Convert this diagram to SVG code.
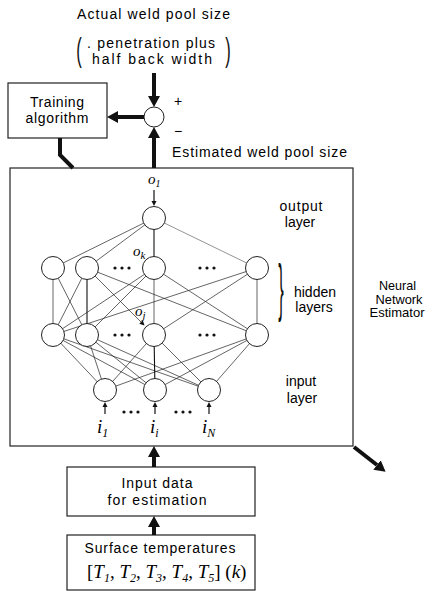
<svg xmlns="http://www.w3.org/2000/svg" width="434" height="591" viewBox="0 0 434 591">
<style>
.lbl{font-family:"Liberation Sans",Arial,sans-serif;font-size:14px;fill:#000;text-anchor:middle}
.nn{font-size:13px}
.math{font-family:"Liberation Serif","Times New Roman",serif;font-style:italic;fill:#000}
.box{fill:#fff;stroke:#222;stroke-width:1.2}
.neuron{fill:#fff;stroke:#222;stroke-width:1}
.thick{fill:none;stroke:#111;stroke-width:4}
.w{fill:none;stroke:#222;stroke-width:0.7}
.wb{fill:none;stroke:#111;stroke-width:1.1}
.small{fill:none;stroke:#111;stroke-width:1.2}
.dot{fill:#111}
.brk{font-family:"Liberation Sans",Arial,sans-serif;fill:#111;text-anchor:middle}
</style>
<defs>
<marker id="bigHead" markerUnits="userSpaceOnUse" markerWidth="12" markerHeight="12" refX="0" refY="6" orient="auto">
<path d="M0,0 L11,6 L0,12 z" fill="#111"/>
</marker>
<marker id="smallHead" markerUnits="userSpaceOnUse" markerWidth="6" markerHeight="6" refX="0" refY="3" orient="auto">
<path d="M0,0.5 L5,3 L0,5.5 z" fill="#111"/>
</marker>
</defs>
<rect width="434" height="591" fill="#fff"/>

<g id="actual-size">
<text class="lbl" x="153.5" y="19" textLength="153" lengthAdjust="spacing">Actual weld pool size</text>
<text class="brk" x="79" y="58" style="font-size:22px" transform="translate(79 51) scale(0.75 1.5) translate(-79 -51)">(</text>
<text class="lbl" x="151" y="48" textLength="128" lengthAdjust="spacing">. penetration plus</text>
<text class="lbl" x="152" y="64" textLength="120" lengthAdjust="spacing">half back width</text>
<text class="brk" x="228" y="58" style="font-size:22px" transform="translate(228 51) scale(0.75 1.5) translate(-228 -51)">)</text>
</g>

<g id="training">
<rect class="box" x="8" y="83" width="99" height="55"/>
<text class="lbl" x="57" y="107" textLength="54" lengthAdjust="spacing">Training</text>
<text class="lbl" x="57" y="123" textLength="63" lengthAdjust="spacing">algorithm</text>
</g>

<g id="sum">
<circle class="neuron" cx="154" cy="117" r="10"/>
<text class="lbl" x="178" y="106">+</text>
<text class="lbl" x="178" y="136">−</text>
</g>

<g id="estimated-size">
<text class="lbl" x="259.5" y="157" textLength="175" lengthAdjust="spacing">Estimated weld pool size</text>
</g>

<g id="nn-estimator">
<rect class="box" x="10" y="168" width="343" height="278"/>
<text class="lbl" x="301" y="211" textLength="43" lengthAdjust="spacing">output</text>
<text class="lbl" x="300" y="227">layer</text>
<text class="lbl" x="315" y="297">hidden</text>
<text class="lbl" x="314" y="312">layers</text>
<text class="lbl" x="301" y="386">input</text>
<text class="lbl" x="302" y="403">layer</text>
<text class="brk" x="281" y="302" style="font-size:30px" transform="translate(281 296) scale(0.55 2.1) translate(-281 -296)">}</text>
</g>

<g id="nn-label">
<text class="lbl nn" x="397.5" y="290" textLength="37" lengthAdjust="spacingAndGlyphs">Neural</text>
<text class="lbl nn" x="399" y="303.5" textLength="47" lengthAdjust="spacingAndGlyphs">Network</text>
<text class="lbl nn" x="397" y="317" textLength="55" lengthAdjust="spacingAndGlyphs">Estimator</text>
</g>

<g id="input-data">
<rect class="box" x="67" y="467" width="188" height="49"/>
<text class="lbl" x="157" y="488" textLength="71" lengthAdjust="spacing">Input data</text>
<text class="lbl" x="157" y="505" textLength="99" lengthAdjust="spacing">for estimation</text>
</g>

<g id="surface-temps">
<rect class="box" x="67" y="535" width="188" height="55"/>
<text class="lbl" x="160" y="553" textLength="151" lengthAdjust="spacing">Surface temperatures</text>
<text class="math" x="87" y="578" style="font-size:19px"><tspan font-style="normal">[</tspan>T<tspan dy="4" font-size="12">1</tspan><tspan dy="-4" font-style="normal">, </tspan>T<tspan dy="4" font-size="12">2</tspan><tspan dy="-4" font-style="normal">, </tspan>T<tspan dy="4" font-size="12">3</tspan><tspan dy="-4" font-style="normal">, </tspan>T<tspan dy="4" font-size="12">4</tspan><tspan dy="-4" font-style="normal">, </tspan>T<tspan dy="4" font-size="12">5</tspan><tspan dy="-4" font-style="normal">] (</tspan>k<tspan font-style="normal">)</tspan></text>
</g>

<g id="connectors">
<line class="thick" x1="154" y1="73" x2="154" y2="96" marker-end="url(#bigHead)"/>
<line class="thick" x1="154" y1="168" x2="154" y2="138" marker-end="url(#bigHead)"/>
<line class="thick" x1="144" y1="117" x2="118" y2="117" marker-end="url(#bigHead)"/>
<polyline class="thick" points="60,138 60,155 73,168"/>
<line class="thick" x1="154" y1="467" x2="154" y2="457" marker-end="url(#bigHead)"/>
<line class="thick" x1="154" y1="535" x2="154" y2="527" marker-end="url(#bigHead)"/>
<line class="thick" x1="354" y1="447" x2="377" y2="465" marker-end="url(#bigHead)"/>

<line class="small" x1="154" y1="190" x2="154" y2="201" marker-end="url(#smallHead)"/>
<line class="small" x1="105" y1="414" x2="105" y2="407" marker-end="url(#smallHead)"/>
<line class="small" x1="155" y1="414" x2="155" y2="407" marker-end="url(#smallHead)"/>
<line class="small" x1="209" y1="414" x2="209" y2="407" marker-end="url(#smallHead)"/>

<line class="w" x1="154" y1="218" x2="53" y2="268"/>
<line class="w" x1="154" y1="218" x2="87" y2="268"/>
<line class="wb" x1="154" y1="218" x2="154" y2="268"/>
<line class="w" x1="154" y1="218" x2="257" y2="268" stroke-opacity="0.7"/>

<line class="w" x1="53" y1="268" x2="53" y2="335"/>
<line class="w" x1="53" y1="268" x2="87" y2="335"/>
<line class="w" x1="87" y1="268" x2="53" y2="335"/>
<line class="wb" x1="87" y1="268" x2="87" y2="335"/>
<line class="w" x1="87" y1="268" x2="141" y2="322" marker-end="url(#smallHead)"/>
<line class="w" x1="87" y1="268" x2="257" y2="335"/>
<line class="w" x1="154" y1="268" x2="154" y2="335"/>
<line class="w" x1="154" y1="268" x2="257" y2="335"/>
<line class="w" x1="257" y1="268" x2="257" y2="335"/>
<line class="w" x1="257" y1="268" x2="53" y2="335"/>
<line class="w" x1="257" y1="268" x2="154" y2="335"/>
<line class="w" x1="154" y1="268" x2="53" y2="335"/>
<line class="w" x1="154" y1="268" x2="87" y2="335"/>

<line class="w" x1="53" y1="335" x2="105" y2="390"/>
<line class="w" x1="53" y1="335" x2="155" y2="390"/>
<line class="w" x1="53" y1="335" x2="209" y2="390"/>
<line class="w" x1="87" y1="335" x2="105" y2="390"/>
<line class="w" x1="87" y1="335" x2="155" y2="390"/>
<line class="w" x1="87" y1="335" x2="209" y2="390"/>
<line class="w" x1="154" y1="335" x2="105" y2="390"/>
<line class="wb" x1="154" y1="335" x2="155" y2="390"/>
<line class="w" x1="154" y1="335" x2="209" y2="390"/>
<line class="w" x1="257" y1="335" x2="105" y2="390"/>
<line class="w" x1="257" y1="335" x2="155" y2="390"/>
<line class="w" x1="257" y1="335" x2="209" y2="390"/>
</g>

<g id="output-layer">
<circle class="neuron" cx="154" cy="218" r="11.5"/>
<text class="math" x="148" y="184" style="font-size:15px">o<tspan dy="3" font-size="10">1</tspan></text>
</g>
<g id="hidden-layer-1">
<circle class="neuron" cx="53" cy="268" r="11.5"/>
<circle class="neuron" cx="87" cy="268" r="11.5"/>
<circle class="neuron" cx="154" cy="268" r="11.5"/>
<circle class="neuron" cx="257" cy="268" r="11.5"/>
<circle class="dot" cx="115" cy="268" r="1.6"/><circle class="dot" cx="122" cy="268" r="1.6"/><circle class="dot" cx="129" cy="268" r="1.6"/>
<circle class="dot" cx="200" cy="268" r="1.6"/><circle class="dot" cx="207" cy="268" r="1.6"/><circle class="dot" cx="214" cy="268" r="1.6"/>
<text class="math" x="133" y="256" style="font-size:15px">o<tspan dy="3" font-size="11">k</tspan></text>
</g>
<g id="hidden-layer-2">
<circle class="neuron" cx="53" cy="335" r="11.5"/>
<circle class="neuron" cx="87" cy="335" r="11.5"/>
<circle class="neuron" cx="154" cy="335" r="11.5"/>
<circle class="neuron" cx="257" cy="335" r="11.5"/>
<circle class="dot" cx="115" cy="335" r="1.6"/><circle class="dot" cx="122" cy="335" r="1.6"/><circle class="dot" cx="129" cy="335" r="1.6"/>
<circle class="dot" cx="200" cy="335" r="1.6"/><circle class="dot" cx="207" cy="335" r="1.6"/><circle class="dot" cx="214" cy="335" r="1.6"/>
<text class="math" x="135" y="316" style="font-size:15px">o<tspan dy="3" font-size="11">j</tspan></text>
</g>
<g id="input-layer">
<circle class="neuron" cx="105" cy="390" r="11.5"/>
<circle class="neuron" cx="155" cy="390" r="11.5"/>
<circle class="neuron" cx="209" cy="390" r="11.5"/>
<circle class="dot" cx="124" cy="412" r="1.6"/><circle class="dot" cx="131" cy="412" r="1.6"/><circle class="dot" cx="138" cy="412" r="1.6"/>
<circle class="dot" cx="176" cy="412" r="1.6"/><circle class="dot" cx="183" cy="412" r="1.6"/><circle class="dot" cx="190" cy="412" r="1.6"/>
<text class="math" x="97" y="433" style="font-size:19px">i<tspan dy="4" font-size="12">1</tspan></text>
<text class="math" x="150" y="433" style="font-size:19px">i<tspan dy="4" font-size="12">i</tspan></text>
<text class="math" x="202" y="433" style="font-size:19px">i<tspan dy="4" font-size="12">N</tspan></text>
</g>
</svg>
